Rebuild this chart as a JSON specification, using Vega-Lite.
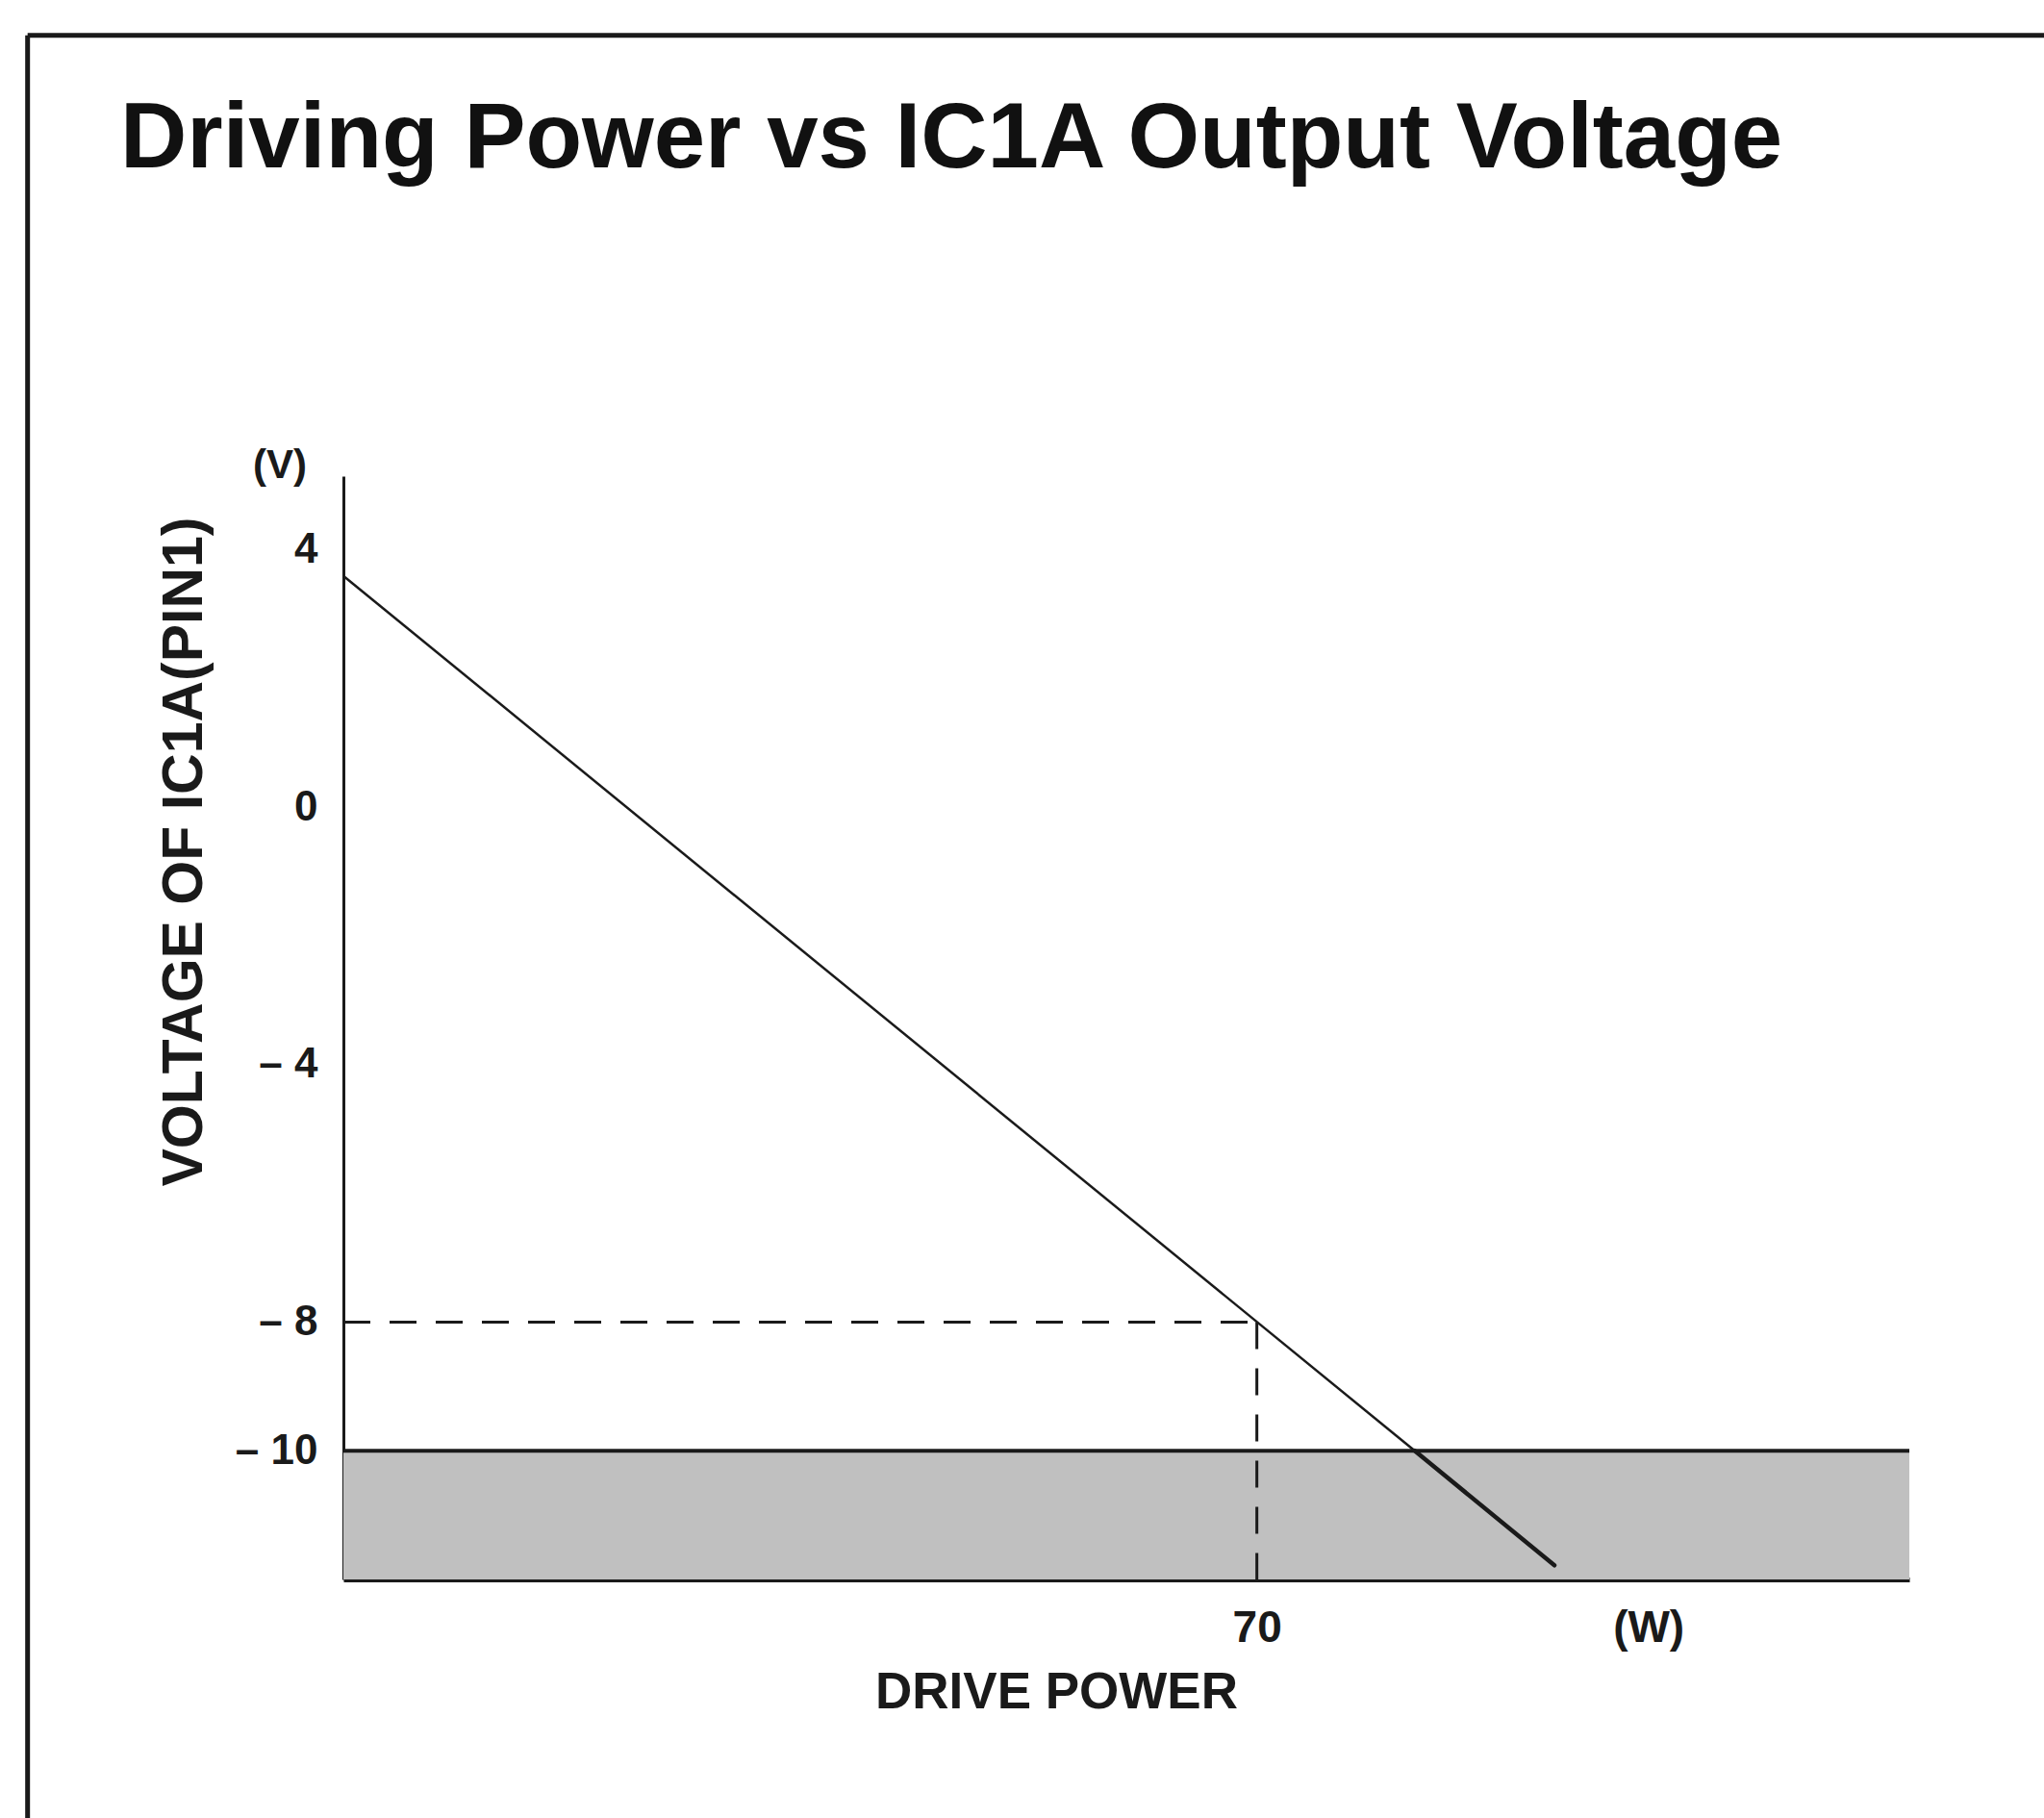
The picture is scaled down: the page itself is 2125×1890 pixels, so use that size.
{
  "$schema": "https://vega.github.io/schema/vega-lite/v6.json",
  "width": 1628,
  "height": 1147,
  "autosize": {"type": "none"},
  "padding": {"left": 357, "top": 495, "right": 140, "bottom": 248},
  "background": "white",
  "title": {
    "text": "Driving Power vs IC1A Output Voltage",
    "anchor": "start",
    "frame": "group",
    "dx": -232,
    "offset": -236,
    "baseline": "alphabetic",
    "fontSize": 96,
    "font": "Liberation Sans",
    "fontWeight": "bold",
    "color": "#111111"
  },
  "config": {
    "view": {"stroke": null},
    "font": "Liberation Sans"
  },
  "datasets": {
    "curve": [
      {"power": 0, "voltage": 3.6, "segment": "above"},
      {"power": 82.1, "voltage": -10, "segment": "above"},
      {"power": 82.1, "voltage": -10, "segment": "within"},
      {"power": 92.8, "voltage": -11.78, "segment": "within"}
    ],
    "band": [
      {"p0": 0, "p1": 120, "v0": -12, "v1": -10}
    ],
    "guides": [
      {"p0": 0, "p1": 70, "v0": -8, "v1": -8},
      {"p0": 70, "p1": 70, "v0": -8, "v1": -12}
    ],
    "single": [{}]
  },
  "layer": [
    {
      "data": {"name": "band"},
      "mark": {"type": "rect", "fill": "#c0c0c0", "stroke": null},
      "encoding": {
        "x": {
          "field": "p0", "type": "quantitative",
          "scale": {"domain": [0, 120], "nice": false, "zero": false},
          "axis": {
            "values": [70, 100],
            "format": "d",
            "labelExpr": "datum.value == 100 ? '(W)' : datum.label",
            "ticks": false,
            "tickSize": 0,
            "grid": false,
            "domainColor": "#1a1a1a",
            "domainWidth": 5,
            "labelFont": "Liberation Sans",
            "labelFontSize": 46,
            "labelFontWeight": "bold",
            "labelColor": "#1a1a1a",
            "labelPadding": 28,
            "labelFlush": false,
            "labelOverlap": false,
            "title": "DRIVE POWER",
            "titleFont": "Liberation Sans",
            "titleFontSize": 53,
            "titleFontWeight": "bold",
            "titleColor": "#1a1a1a",
            "titleX": 741,
            "titleY": 133,
            "titleAlign": "center",
            "titleBaseline": "alphabetic"
          }
        },
        "x2": {"field": "p1"},
        "y": {
          "field": "v0", "type": "quantitative",
          "scale": {"domain": [-12, 5.15], "nice": false, "zero": false},
          "axis": {
            "values": [4, 0, -4, -8, -10],
            "format": "d",
            "labelExpr": "datum.value < 0 ? '– ' + abs(datum.value) : datum.label",
            "ticks": false,
            "tickSize": 0,
            "grid": false,
            "domainColor": "#1a1a1a",
            "domainWidth": 3,
            "labelFont": "Liberation Sans",
            "labelFontSize": 44,
            "labelFontWeight": "bold",
            "labelColor": "#1a1a1a",
            "labelPadding": 27,
            "labelFlush": false,
            "labelOverlap": false,
            "title": "VOLTAGE OF IC1A(PIN1)",
            "titleFont": "Liberation Sans",
            "titleFontSize": 59,
            "titleFontWeight": "bold",
            "titleColor": "#1a1a1a",
            "titleAngle": -90,
            "titleX": -166,
            "titleY": 390,
            "titleAlign": "center",
            "titleBaseline": "middle"
          }
        },
        "y2": {"field": "v1"}
      }
    },
    {
      "data": {"name": "band"},
      "mark": {"type": "rule", "color": "#1a1a1a", "strokeWidth": 4},
      "encoding": {
        "x": {"field": "p0", "type": "quantitative"},
        "x2": {"field": "p1"},
        "y": {"field": "v1", "type": "quantitative"}
      }
    },
    {
      "data": {"name": "guides"},
      "mark": {"type": "rule", "color": "#1a1a1a", "strokeWidth": 3, "strokeDash": [28, 20]},
      "encoding": {
        "x": {"field": "p0", "type": "quantitative"},
        "x2": {"field": "p1"},
        "y": {"field": "v0", "type": "quantitative"},
        "y2": {"field": "v1"}
      }
    },
    {
      "data": {"name": "curve"},
      "transform": [{"filter": "datum.segment == 'above'"}],
      "mark": {"type": "line", "color": "#1a1a1a", "strokeWidth": 2.5},
      "encoding": {
        "x": {"field": "power", "type": "quantitative"},
        "y": {"field": "voltage", "type": "quantitative"}
      }
    },
    {
      "data": {"name": "curve"},
      "transform": [{"filter": "datum.segment == 'within'"}],
      "mark": {"type": "line", "color": "#1a1a1a", "strokeWidth": 4.5, "strokeCap": "round"},
      "encoding": {
        "x": {"field": "power", "type": "quantitative"},
        "y": {"field": "voltage", "type": "quantitative"}
      }
    },
    {
      "data": {"name": "single"},
      "mark": {"type": "text", "text": "(V)", "font": "Liberation Sans", "fontSize": 42, "fontWeight": "bold", "color": "#1a1a1a", "dx": -66, "align": "center", "baseline": "middle"},
      "encoding": {
        "x": {"datum": 0, "type": "quantitative"},
        "y": {"datum": 5.31, "type": "quantitative"}
      }
    },
    {
      "data": {"name": "single"},
      "mark": {"type": "rule", "color": "#1a1a1a", "strokeWidth": 5},
      "encoding": {
        "x": {"datum": -24.2, "type": "quantitative"},
        "x2": {"datum": 135},
        "y": {"datum": 12.0, "type": "quantitative"}
      }
    },
    {
      "data": {"name": "single"},
      "mark": {"type": "rule", "color": "#1a1a1a", "strokeWidth": 5},
      "encoding": {
        "x": {"datum": -24.2, "type": "quantitative"},
        "y": {"datum": 12.0, "type": "quantitative"},
        "y2": {"datum": -16}
      }
    }
  ]
}
